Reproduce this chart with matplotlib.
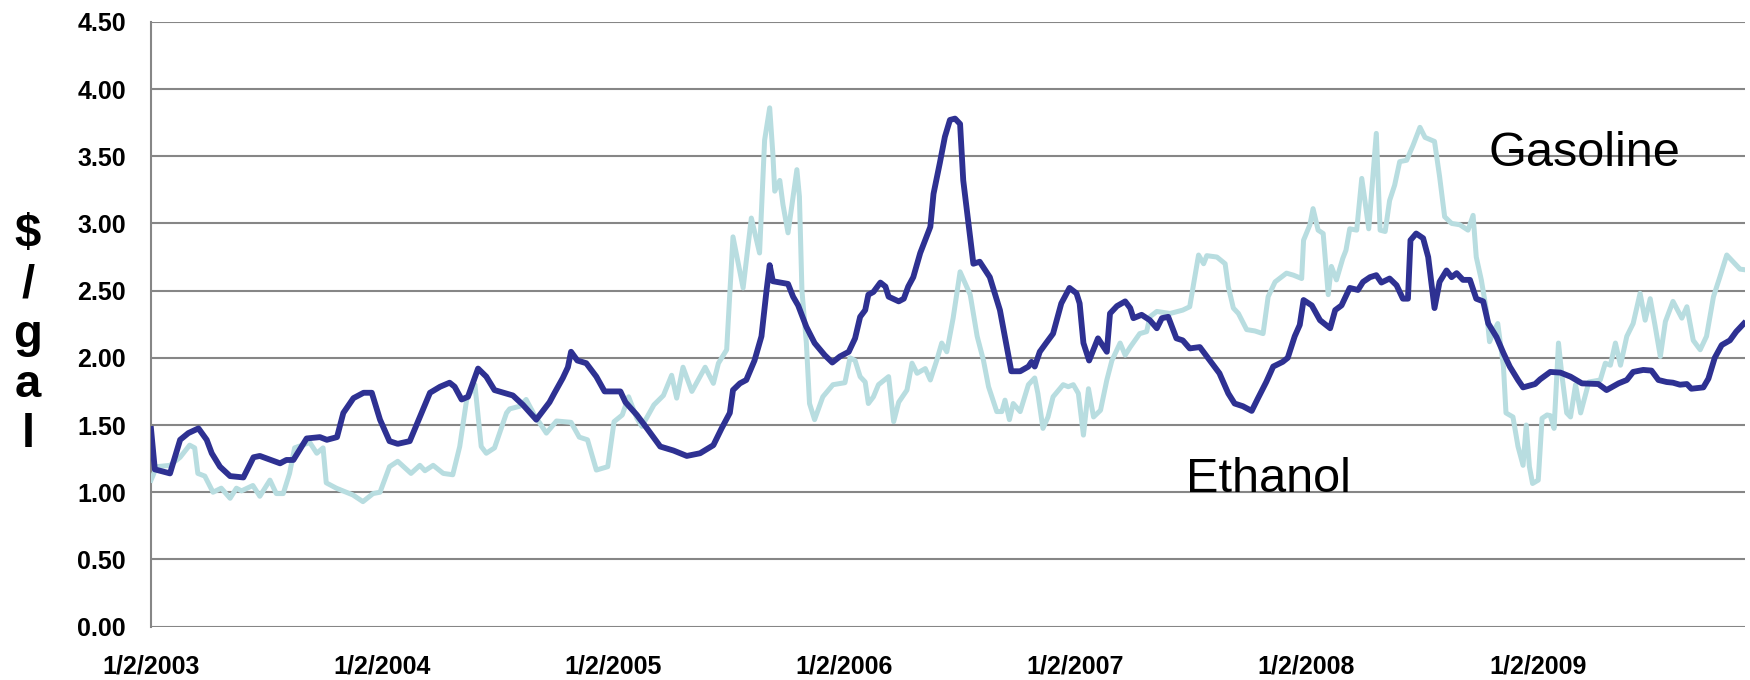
import matplotlib
matplotlib.use("Agg")
import matplotlib.pyplot as plt
import pandas as pd

plt.rcParams['font.family'] = ['Liberation Sans', 'DejaVu Sans']

# weekly-ish price points ($/gal)
ethanol_dates = [
    '2003-01-02', '2003-01-08', '2003-02-01', '2003-02-17', '2003-03-02', '2003-03-18', '2003-03-31',
    '2003-04-08', '2003-04-21', '2003-05-07', '2003-05-28', '2003-06-13', '2003-06-23', '2003-07-25',
    '2003-08-04', '2003-08-15', '2003-09-05', '2003-09-26', '2003-10-07', '2003-10-23', '2003-11-02',
    '2003-11-18', '2003-12-04', '2003-12-17', '2003-12-30', '2004-01-14', '2004-01-27', '2004-02-15',
    '2004-03-02', '2004-03-18', '2004-04-03', '2004-04-18', '2004-04-26', '2004-05-07', '2004-05-17',
    '2004-06-02', '2004-06-15', '2004-06-28', '2004-07-27', '2004-08-12', '2004-09-02', '2004-09-23',
    '2004-10-01', '2004-10-14', '2004-10-22', '2004-10-27', '2004-11-06', '2004-11-20', '2004-12-06',
    '2004-12-19', '2005-01-13', '2005-01-21', '2005-02-08', '2005-02-24', '2005-03-17', '2005-04-07',
    '2005-04-28', '2005-05-19', '2005-06-09', '2005-06-22', '2005-07-05', '2005-07-10', '2005-07-21',
    '2005-07-31', '2005-08-13', '2005-08-24', '2005-09-01', '2005-09-06', '2005-09-11', '2005-10-05',
    '2005-10-13', '2005-10-21', '2005-11-03', '2005-11-16', '2005-12-02', '2005-12-14', '2005-12-26',
    '2006-01-09', '2006-01-19', '2006-01-27', '2006-02-04', '2006-02-09', '2006-02-17', '2006-02-28',
    '2006-03-08', '2006-03-13', '2006-03-29', '2006-04-06', '2006-04-13', '2006-04-21', '2006-05-02',
    '2006-05-18', '2006-05-23', '2006-06-02', '2006-06-10', '2006-06-18', '2006-06-26', '2006-07-04',
    '2006-07-09', '2006-07-25', '2006-08-04', '2006-08-20', '2006-09-05', '2006-09-23', '2006-10-07',
    '2006-10-20', '2006-10-25', '2006-10-30', '2006-11-07', '2006-11-17', '2006-11-28', '2006-12-11',
    '2006-12-24', '2007-01-04', '2007-01-09', '2007-01-15', '2007-01-24', '2007-02-07', '2007-02-21',
    '2007-02-26', '2007-03-09', '2007-03-22', '2007-03-30', '2007-04-04', '2007-04-17', '2007-04-30',
    '2007-05-11', '2007-05-19', '2007-05-29', '2007-06-11', '2007-06-21', '2007-07-02', '2007-07-18',
    '2007-08-03', '2007-08-18', '2007-09-01', '2007-09-11', '2007-09-24', '2007-10-08', '2007-10-18',
    '2007-10-31', '2007-11-11', '2007-11-26', '2007-12-04', '2007-12-15', '2007-12-23', '2007-12-29',
    '2008-01-11', '2008-01-24', '2008-02-09', '2008-02-17', '2008-02-27', '2008-03-11', '2008-03-24',
    '2008-04-01', '2008-04-12', '2008-04-22', '2008-04-30', '2008-05-13', '2008-05-24', '2008-06-03',
    '2008-06-11', '2008-06-15', '2008-06-24', '2008-07-05', '2008-07-13', '2008-07-23', '2008-07-31',
    '2008-08-11', '2008-08-19', '2008-08-27', '2008-09-06', '2008-09-17', '2008-09-27', '2008-10-08',
    '2008-10-16', '2008-10-29', '2008-11-09', '2008-11-19', '2008-12-02', '2008-12-10', '2008-12-29',
    '2009-01-06', '2009-01-22', '2009-02-07', '2009-02-23', '2009-03-13', '2009-04-08', '2009-04-21',
    '2009-05-10', '2009-05-23', '2009-06-02', '2009-06-18', '2009-07-01', '2009-07-12', '2009-07-25',
    '2009-08-04', '2009-08-15', '2009-08-26', '2009-09-02', '2009-09-21', '2009-09-29', '2009-10-09',
    '2009-10-20', '2009-11-02', '2009-11-12', '2009-11-24',
]
ethanol = [
    1.47, 1.17, 1.14, 1.39, 1.44, 1.475, 1.39,
    1.29, 1.19, 1.12, 1.11, 1.26, 1.27, 1.215,
    1.24, 1.24, 1.40, 1.41, 1.39, 1.41, 1.59,
    1.70, 1.74, 1.74, 1.54, 1.38, 1.36, 1.38,
    1.56, 1.74, 1.785, 1.815, 1.785, 1.69, 1.71,
    1.92, 1.86, 1.76, 1.72, 1.65, 1.54, 1.67,
    1.74, 1.85, 1.93, 2.045, 1.98, 1.96, 1.86,
    1.75, 1.75, 1.67, 1.575, 1.475, 1.34, 1.31,
    1.27, 1.29, 1.35, 1.475, 1.59, 1.76, 1.81,
    1.835, 1.98, 2.16, 2.50, 2.69, 2.57, 2.55,
    2.455, 2.39, 2.23, 2.11, 2.02, 1.965, 2.01,
    2.045, 2.145, 2.305, 2.355, 2.47, 2.49, 2.56,
    2.53, 2.455, 2.42, 2.44, 2.53, 2.60, 2.78,
    2.975, 3.22, 3.45, 3.645, 3.77, 3.78, 3.74,
    3.32, 2.70, 2.715, 2.60, 2.355, 1.90, 1.90,
    1.935, 1.97, 1.935, 2.045, 2.11, 2.18, 2.405,
    2.52, 2.48, 2.405, 2.11, 1.98, 2.145, 2.045,
    2.33, 2.385, 2.42, 2.37, 2.295, 2.32, 2.28,
    2.22, 2.295, 2.305, 2.145, 2.13, 2.07, 2.08,
    1.98, 1.885, 1.735, 1.66, 1.64, 1.605, 1.70,
    1.82, 1.935, 1.97, 2.00, 2.16, 2.245, 2.43,
    2.39, 2.28, 2.22, 2.355, 2.39, 2.52, 2.505,
    2.565, 2.60, 2.615, 2.56, 2.59, 2.54, 2.44,
    2.44, 2.875, 2.925, 2.89, 2.75, 2.37, 2.565,
    2.65, 2.60, 2.63, 2.58, 2.58, 2.44, 2.42,
    2.255, 2.155, 2.035, 1.935, 1.835, 1.78, 1.805,
    1.84, 1.895, 1.89, 1.86, 1.81, 1.805, 1.76,
    1.81, 1.835, 1.895, 1.91, 1.905, 1.835, 1.82,
    1.815, 1.80, 1.805, 1.77, 1.78, 1.845, 2.00,
    2.095, 2.13, 2.195, 2.255,
]

gasoline_dates = [
    '2003-01-02', '2003-01-11', '2003-02-01', '2003-02-17', '2003-03-04', '2003-03-12', '2003-03-17',
    '2003-03-28', '2003-04-10', '2003-04-23', '2003-05-07', '2003-05-17', '2003-05-25', '2003-06-12',
    '2003-06-23', '2003-07-09', '2003-07-19', '2003-07-30', '2003-08-09', '2003-08-17', '2003-09-10',
    '2003-09-21', '2003-10-01', '2003-10-06', '2003-10-22', '2003-11-12', '2003-11-17', '2003-12-03',
    '2003-12-19', '2003-12-30', '2004-01-14', '2004-01-27', '2004-02-17', '2004-03-02', '2004-03-10',
    '2004-03-23', '2004-04-08', '2004-04-23', '2004-05-04', '2004-05-15', '2004-05-28', '2004-06-07',
    '2004-06-15', '2004-06-28', '2004-07-17', '2004-07-22', '2004-08-07', '2004-08-17', '2004-08-30',
    '2004-09-18', '2004-10-04', '2004-10-27', '2004-11-09', '2004-11-22', '2004-12-06', '2004-12-24',
    '2005-01-03', '2005-01-16', '2005-01-26', '2005-02-08', '2005-02-16', '2005-03-07', '2005-03-22',
    '2005-04-04', '2005-04-12', '2005-04-22', '2005-05-06', '2005-05-27', '2005-06-09', '2005-06-17',
    '2005-06-30', '2005-07-10', '2005-07-26', '2005-08-08', '2005-08-21', '2005-08-29', '2005-09-06',
    '2005-09-11', '2005-09-14', '2005-09-22', '2005-09-27', '2005-10-05', '2005-10-13', '2005-10-19',
    '2005-10-23', '2005-10-27', '2005-11-03', '2005-11-08', '2005-11-16', '2005-11-29', '2005-12-15',
    '2006-01-03', '2006-01-11', '2006-01-19', '2006-01-27', '2006-02-04', '2006-02-09', '2006-02-17',
    '2006-02-25', '2006-03-13', '2006-03-21', '2006-03-29', '2006-04-11', '2006-04-19', '2006-04-27',
    '2006-05-10', '2006-05-18', '2006-05-28', '2006-06-05', '2006-06-13', '2006-06-23', '2006-07-04',
    '2006-07-20', '2006-07-31', '2006-08-10', '2006-08-18', '2006-08-31', '2006-09-08', '2006-09-13',
    '2006-09-20', '2006-09-26', '2006-10-07', '2006-10-20', '2006-10-30', '2006-11-04', '2006-11-12',
    '2006-11-20', '2006-11-28', '2006-12-14', '2006-12-22', '2006-12-30', '2007-01-07', '2007-01-15',
    '2007-01-23', '2007-01-31', '2007-02-11', '2007-02-21', '2007-03-01', '2007-03-14', '2007-03-22',
    '2007-03-30', '2007-04-14', '2007-04-25', '2007-04-30', '2007-05-11', '2007-06-01', '2007-06-21',
    '2007-07-02', '2007-07-16', '2007-07-24', '2007-07-29', '2007-08-14', '2007-08-27', '2007-09-01',
    '2007-09-09', '2007-09-17', '2007-09-30', '2007-10-13', '2007-10-26', '2007-11-03', '2007-11-14',
    '2007-12-02', '2007-12-13', '2007-12-26', '2007-12-29', '2008-01-08', '2008-01-13', '2008-01-21',
    '2008-01-29', '2008-02-06', '2008-02-11', '2008-02-19', '2008-02-29', '2008-03-05', '2008-03-11',
    '2008-03-22', '2008-03-30', '2008-04-04', '2008-04-10', '2008-04-17', '2008-04-22', '2008-04-28',
    '2008-05-06', '2008-05-13', '2008-05-21', '2008-05-29', '2008-06-09', '2008-06-19', '2008-06-30',
    '2008-07-08', '2008-07-23', '2008-07-31', '2008-08-08', '2008-08-19', '2008-09-01', '2008-09-14',
    '2008-09-22', '2008-09-27', '2008-10-05', '2008-10-13', '2008-10-18', '2008-10-26', '2008-10-31',
    '2008-11-09', '2008-11-13', '2008-11-24', '2008-12-02', '2008-12-10', '2008-12-15', '2008-12-20',
    '2008-12-25', '2009-01-03', '2009-01-09', '2009-01-17', '2009-01-22', '2009-01-28', '2009-02-04',
    '2009-02-09', '2009-02-17', '2009-02-23', '2009-03-03', '2009-03-11', '2009-03-24', '2009-04-11',
    '2009-04-19', '2009-04-27', '2009-05-05', '2009-05-13', '2009-05-23', '2009-06-02', '2009-06-13',
    '2009-06-21', '2009-06-29', '2009-07-07', '2009-07-15', '2009-07-23', '2009-08-04', '2009-08-18',
    '2009-08-26', '2009-09-05', '2009-09-16', '2009-09-26', '2009-10-07', '2009-10-17', '2009-10-28',
    '2009-11-07', '2009-11-18', '2009-11-26',
]
gasoline = [
    1.09, 1.19, 1.20, 1.26, 1.35, 1.33, 1.14,
    1.12, 1.00, 1.03, 0.955, 1.03, 1.01, 1.05,
    0.97, 1.09, 0.99, 0.99, 1.14, 1.33, 1.37,
    1.29, 1.33, 1.07, 1.03, 0.99, 0.98, 0.93,
    0.99, 1.00, 1.19, 1.23, 1.14, 1.20, 1.16,
    1.20, 1.14, 1.13, 1.34, 1.69, 1.80, 1.34,
    1.29, 1.33, 1.59, 1.62, 1.64, 1.69, 1.575,
    1.44, 1.53, 1.52, 1.41, 1.39, 1.165, 1.19,
    1.525, 1.575, 1.71, 1.55, 1.49, 1.65, 1.72,
    1.87, 1.70, 1.93, 1.75, 1.93, 1.81, 1.96,
    2.06, 2.90, 2.52, 3.04, 2.78, 3.62, 3.86,
    3.52, 3.24, 3.32, 3.14, 2.93, 3.20, 3.40,
    3.20, 2.50, 2.11, 1.66, 1.54, 1.71, 1.80,
    1.815, 2.00, 1.98, 1.86, 1.82, 1.66, 1.71,
    1.80, 1.86, 1.525, 1.67, 1.76, 1.96, 1.885,
    1.92, 1.835, 1.98, 2.11, 2.045, 2.295, 2.64,
    2.47, 2.16, 1.98, 1.785, 1.60, 1.60, 1.685,
    1.54, 1.66, 1.60, 1.80, 1.85, 1.735, 1.475,
    1.56, 1.71, 1.80, 1.785, 1.80, 1.735, 1.425,
    1.77, 1.56, 1.61, 1.835, 1.98, 2.11, 2.02,
    2.08, 2.18, 2.195, 2.305, 2.345, 2.33, 2.355,
    2.38, 2.765, 2.70, 2.76, 2.75, 2.70, 2.53,
    2.37, 2.33, 2.21, 2.20, 2.18, 2.455, 2.565,
    2.63, 2.615, 2.59, 2.875, 2.99, 3.11, 2.95,
    2.925, 2.47, 2.68, 2.58, 2.74, 2.80, 2.96,
    2.95, 3.335, 3.17, 2.96, 3.37, 3.67, 2.95,
    2.94, 3.17, 3.285, 3.46, 3.47, 3.58, 3.715,
    3.64, 3.61, 3.35, 3.05, 3.00, 2.99, 2.95,
    3.06, 2.75, 2.58, 2.355, 2.12, 2.21, 2.255,
    1.935, 1.59, 1.56, 1.34, 1.20, 1.50, 1.19,
    1.065, 1.09, 1.55, 1.575, 1.57, 1.475, 2.11,
    1.885, 1.59, 1.56, 1.80, 1.59, 1.82, 1.835,
    1.96, 1.945, 2.11, 1.945, 2.16, 2.255, 2.48,
    2.28, 2.44, 2.23, 2.01, 2.27, 2.42, 2.295,
    2.38, 2.13, 2.06, 2.16, 2.455, 2.60, 2.765,
    2.715, 2.66, 2.655,
]

year_ticks = ['2003-01-02', '2004-01-02', '2005-01-02', '2006-01-02',
              '2007-01-02', '2008-01-02', '2009-01-02']
y_ticks = [0, 0.5, 1.0, 1.5, 2.0, 2.5, 3.0, 3.5, 4.0, 4.5]

fig = plt.figure(figsize=(17.5, 6.8), dpi=100)
ax = fig.add_axes([0.0863, 0.0785, 0.9109, 0.8894])

grid_col = '#868686'
ax.plot(pd.to_datetime(gasoline_dates), gasoline, color='#B8DDE0', lw=3.6, zorder=3)
ax.plot(pd.to_datetime(ethanol_dates), ethanol, color='#2E3192', lw=4.2, zorder=4)

ax.set_ylim(0, 4.5)
ax.set_xlim(pd.Timestamp('2003-01-02'), pd.Timestamp('2009-11-26'))
ax.set_yticks(y_ticks)
ax.set_yticklabels(['%.2f' % v for v in y_ticks])
tick_dates = pd.to_datetime(year_ticks)
ax.set_xticks(tick_dates)
ax.set_xticklabels(['%d/%d/%d' % (d.month, d.day, d.year) for d in tick_dates])

ax.grid(axis='y', color=grid_col, lw=1.5, zorder=1)
ax.set_axisbelow(True)
for s in ['top', 'right', 'bottom']:
    ax.spines[s].set_visible(False)
ax.spines['left'].set_color(grid_col)
ax.spines['left'].set_linewidth(1.5)
ax.tick_params(axis='both', length=0, labelsize=18)
ax.tick_params(axis='y', pad=18)
ax.tick_params(axis='x', pad=20)
for lab in ax.get_xticklabels() + ax.get_yticklabels():
    lab.set_fontweight('bold')

ax.text(pd.Timestamp('2008-10-16'), 3.43, 'Gasoline', fontsize=35, va='baseline', ha='left')
ax.text(pd.Timestamp('2007-06-26'), 1.00, 'Ethanol', fontsize=35, va='baseline', ha='left')

fig.text(28 / 1750, 1 - 335 / 680, '\\$\n/\ng\na\nl', fontsize=34, fontweight='bold',
         ha='center', va='center', multialignment='center', linespacing=1.17)

fig.savefig('out.png', dpi=100)
